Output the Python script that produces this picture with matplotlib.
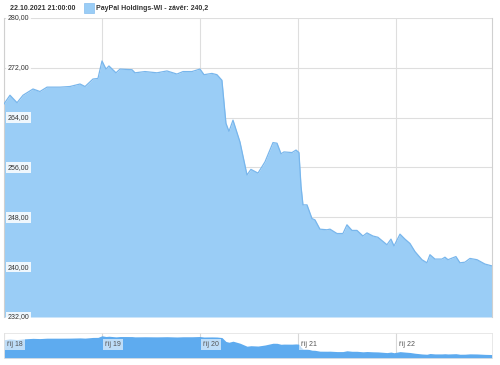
import matplotlib.pyplot as plt
import matplotlib.transforms as mtransforms
from matplotlib.patches import Rectangle

# time as days since 18.10.2021 (trading-time axis), close price
days = [0.000, 0.061, 0.133, 0.194, 0.296, 0.367, 0.439, 0.571, 0.673, 0.776,
        0.827, 0.908, 0.959, 1.000, 1.041, 1.071, 1.143, 1.184, 1.306, 1.337,
        1.439, 1.561, 1.663, 1.765, 1.827, 1.918, 2.000, 2.041, 2.122, 2.173,
        2.224, 2.265, 2.296, 2.337, 2.408, 2.480, 2.520, 2.592, 2.663, 2.745,
        2.786, 2.827, 2.857, 2.939, 2.980, 3.010, 3.031, 3.051, 3.092, 3.143,
        3.173, 3.224, 3.296, 3.327, 3.398, 3.459, 3.500, 3.551, 3.602, 3.663,
        3.704, 3.765, 3.816, 3.908, 3.949, 3.980, 4.041, 4.092, 4.143, 4.194,
        4.265, 4.316, 4.347, 4.398, 4.469, 4.500, 4.531, 4.612, 4.653, 4.704,
        4.755, 4.827, 4.908, 4.980]
close = [266.2, 267.6, 266.4, 267.6, 268.6, 268.2, 268.9, 268.9, 269.0, 269.4,
         269.0, 270.2, 270.3, 273.1, 271.8, 272.3, 271.2, 271.8, 271.7, 271.2,
         271.4, 271.2, 271.5, 271.0, 271.4, 271.4, 271.8, 270.9, 271.1, 270.9,
         270.0, 263.1, 261.8, 263.6, 260.1, 254.8, 255.7, 255.1, 256.9, 260.0,
         259.9, 258.2, 258.5, 258.4, 258.8, 258.4, 253.0, 250.0, 250.0, 247.8,
         247.6, 246.1, 246.0, 246.1, 245.4, 245.4, 246.8, 245.9, 245.9, 245.0,
         245.5, 245.0, 244.8, 243.6, 244.5, 243.4, 245.3, 244.5, 243.8, 242.5,
         241.2, 240.7, 242.0, 241.3, 241.3, 241.6, 241.2, 241.7, 240.7, 240.8,
         241.4, 241.2, 240.5, 240.2]

day_ticks = [0, 1, 2, 3, 4]
day_labels = ["říj 18", "říj 19", "říj 20", "říj 21", "říj 22"]
y_ticks = [232, 240, 248, 256, 264, 272, 280]

FILL = "#9acdf6"
LINE = "#78b6ec"
NAV_FILL = "#5eabef"
GRID = "#dedede"
TEXT = "#333333"

plt.rcParams["font.family"] = ["Liberation Sans", "DejaVu Sans"]

fig = plt.figure(figsize=(5.0, 3.65), dpi=100)
ax = fig.add_axes([0.008, 0.1315, 0.976, 0.8192])
nav = fig.add_axes([0.008, 0.019, 0.976, 0.0687])

# main area chart
ax.fill_between(days, close, 232, color=FILL, lw=0, zorder=2)
ax.plot(days, close, color=LINE, lw=0.9, zorder=3)
ax.set_xlim(0, days[-1])
ax.set_ylim(232, 280)
ax.set_yticks(y_ticks)
ax.set_xticks(day_ticks)
ax.tick_params(length=0, labelleft=False, labelbottom=False)
ax.grid(True, color=GRID, lw=0.8, zorder=1)
ax.set_axisbelow(True)
for s in ["top", "bottom"]:
    ax.spines[s].set_visible(False)
for s in ["left", "right"]:
    ax.spines[s].set_color("#d0d0d0")
    ax.spines[s].set_linewidth(0.8)

trans = mtransforms.blended_transform_factory(ax.transAxes, ax.transData)
for v in y_ticks:
    ax.text(0.008, v, f"{v:.2f}".replace(".", ","), transform=trans,
            fontsize=5, color=TEXT, va="center", ha="left", zorder=5,
            bbox=dict(boxstyle="square,pad=0.25", fc="white", ec="none",
                      alpha=0.85))

# navigator
nav.fill_between(days, close, 230, color=NAV_FILL, lw=0, zorder=2)
nav.set_xlim(0, days[-1])
nav.set_ylim(234, 278)
nav.set_xticks(day_ticks)
nav.set_yticks([])
nav.tick_params(length=0, labelbottom=False)
nav.grid(True, axis="x", color="#d8d8d8", lw=0.8, zorder=1)
nav.set_axisbelow(True)
for s in nav.spines.values():
    s.set_color("#e4e4e4")
    s.set_linewidth(0.6)
ntrans = mtransforms.blended_transform_factory(nav.transData, nav.transAxes)
for d, lab in zip(day_ticks, day_labels):
    nav.text(d + 0.03, 0.55, lab, transform=ntrans, fontsize=5, color="#555555",
             va="center", ha="left", zorder=5,
             bbox=dict(boxstyle="square,pad=0.3", fc="white", ec="none",
                       alpha=0.6))

# header / legend
fig.text(0.02, 0.978, "22.10.2021 21:00:00", fontsize=5, fontweight="bold",
         color=TEXT, va="center", ha="left")
fig.patches.append(Rectangle((0.168, 0.964), 0.019, 0.027,
                             transform=fig.transFigure, fc=FILL,
                             ec="#86bdee", lw=0.5))
fig.text(0.193, 0.978, "PayPal Holdings-WI - závěr: 240,2", fontsize=5,
         fontweight="bold", color=TEXT, va="center", ha="left")

fig.savefig("out.png", dpi=100)
